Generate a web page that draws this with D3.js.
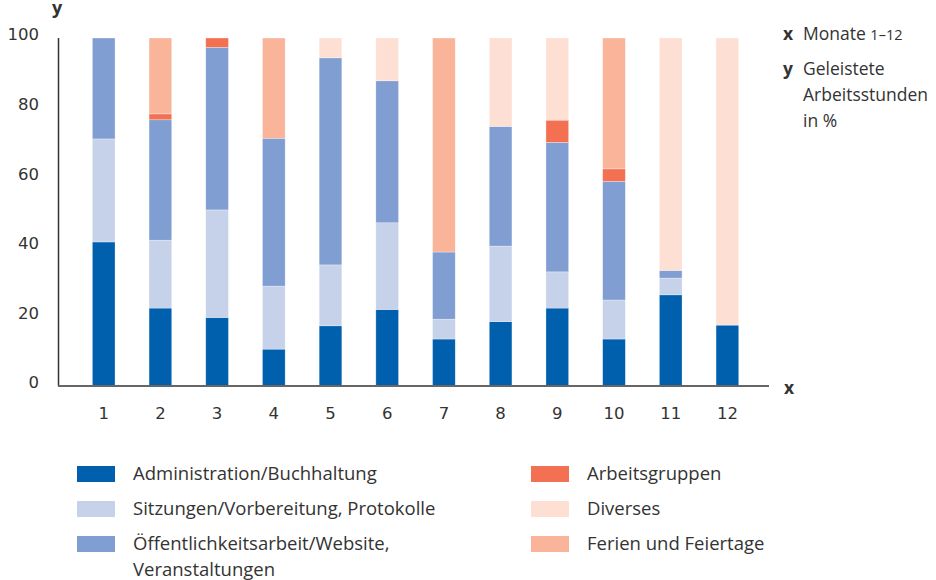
<!DOCTYPE html>
<html>
<head>
<meta charset="utf-8">
<script src="https://cdn.jsdelivr.net/npm/d3@7"></script>
<style>
  body { margin: 0; background: #fff; }
  svg text { font-family: "Open Sans", "Noto Sans", sans-serif; fill: #333; }
  svg .tick text { font-family: "DejaVu Sans", sans-serif; }
</style>
</head>
<body>
<svg id="chart" width="936" height="580"></svg>
<script>
const months = ['1', '2', '3', '4', '5', '6', '7', '8', '9', '10', '11', '12'];
const yTicks = [0, 20, 40, 60, 80, 100];

// share of working hours per month, in %
const admin      = [41.4, 22.4, 19.7, 10.6, 17.3, 22.0, 13.5, 18.5, 22.4, 13.5, 26.2, 17.5];
const sitzungen  = [29.6, 19.5, 30.9, 18.1, 17.5, 24.9,  5.7, 21.7, 10.4, 11.2,  4.8,  0];
const oeffentl   = [29.0, 34.6, 46.7, 42.5, 59.5, 40.8, 19.3, 34.4, 37.2, 34.1,  2.2,  0];
const arbeitsgr  = [0,     1.7,  2.7,  0,    0,    0,    0,    0,    6.4,  3.6,  0,    0];
const diverses   = [0,     0,    0,    0,    5.7, 12.3,  0,   25.4, 23.6,  0,   66.8, 82.5];
const ferien     = [0,    21.8,  0,   28.8,  0,    0,   61.5,  0,    0,   37.6,  0,    0];

const seriesNames = ['Administration/Buchhaltung', 'Sitzungen/Vorbereitung, Protokolle',
  'Öffentlichkeitsarbeit/Website, Veranstaltungen', 'Arbeitsgruppen', 'Diverses', 'Ferien und Feiertage'];
const seriesValues = [admin, sitzungen, oeffentl, arbeitsgr, diverses, ferien];
const colors = ['#0060ae', '#c6d1ea', '#819ed2', '#f37053', '#fddfd3', '#f9b49a'];

const keys = seriesNames.map((_, i) => 's' + i);
const table = months.map((m, j) => {
  const row = { month: m };
  keys.forEach((k, i) => row[k] = seriesValues[i][j]);
  return row;
});

const svg = d3.select('#chart');

const x = d3.scaleBand().domain(months).range([75.35, 755.75]).paddingInner(0.6).paddingOuter(0.3);
const y = d3.scaleLinear().domain([0, 100]).range([386, 38]);

const stack = d3.stack().keys(keys)(table);

svg.append('g').selectAll('g')
  .data(stack)
  .join('g')
  .attr('fill', (_, i) => colors[i])
  .selectAll('rect')
  .data(d => d.filter(p => p[1] - p[0] > 0))
  .join('rect')
  .attr('x', d => x(d.data.month))
  .attr('width', x.bandwidth())
  .attr('y', d => y(d[1]))
  .attr('height', d => y(d[0]) - y(d[1]))
  .attr('stroke', 'rgba(255,255,255,0.5)')
  .attr('stroke-width', 0.6);

// axes
svg.append('line')
  .attr('x1', 58.5).attr('x2', 58.5)
  .attr('y1', y(100)).attr('y2', y(0))
  .attr('stroke', '#333').attr('stroke-width', 1.5);
svg.append('line')
  .attr('x1', 58).attr('x2', 769)
  .attr('y1', y(0)).attr('y2', y(0))
  .attr('stroke', '#666').attr('stroke-width', 2);

const yAxis = svg.append('g')
  .attr('transform', 'translate(58,0)')
  .call(d3.axisLeft(y).tickValues(yTicks).tickSize(0).tickPadding(19));
yAxis.select('.domain').remove();
yAxis.selectAll('text')
  .attr('dy', '0.36em').attr('y', -4)
  .style('font-size', '16.5px');

const xAxis = svg.append('g')
  .attr('transform', `translate(0,${y(0)})`)
  .call(d3.axisBottom(x).tickSize(0).tickPadding(21));
xAxis.select('.domain').remove();
xAxis.selectAll('text').style('font-size', '16.5px');

// axis letters
svg.append('text').attr('x', 52).attr('y', 14).text('y')
  .style('font-size', '18px').style('font-weight', 'bold');
svg.append('text').attr('x', 784).attr('y', 394).text('x')
  .style('font-size', '17.5px').style('font-weight', 'bold');

// description on the right
const desc = svg.append('g').style('font-size', '17.5px');
desc.append('text').attr('x', 783).attr('y', 40).text('x').style('font-weight', 'bold');
const mt = desc.append('text').attr('x', 803).attr('y', 40);
mt.append('tspan').text('Monate ');
mt.append('tspan').text('1–12').style('font-size', '14.5px');
desc.append('text').attr('x', 783).attr('y', 75).text('y').style('font-weight', 'bold');
['Geleistete', 'Arbeitsstunden', 'in %'].forEach((t, i) => {
  desc.append('text').attr('x', 803).attr('y', 75 + i * 26).text(t);
});

// legend
const legendItems = [
  { col: 0, row: 0, lines: ['Administration/Buchhaltung'] },
  { col: 0, row: 1, lines: ['Sitzungen/Vorbereitung, Protokolle'] },
  { col: 0, row: 2, lines: ['Öffentlichkeitsarbeit/Website,', 'Veranstaltungen'] },
  { col: 1, row: 0, lines: ['Arbeitsgruppen'] },
  { col: 1, row: 1, lines: ['Diverses'] },
  { col: 1, row: 2, lines: ['Ferien und Feiertage'] }
];
const colX = [77, 531];
const legend = svg.append('g');
legendItems.forEach((it, i) => {
  const cy = 474 + it.row * 35;
  legend.append('rect')
    .attr('x', colX[it.col]).attr('y', cy - 8)
    .attr('width', 38).attr('height', 16)
    .attr('fill', colors[i]);
  it.lines.forEach((l, k) => {
    legend.append('text')
      .attr('x', colX[it.col] + 56).attr('y', cy + k * 26)
      .attr('dy', '0.35em')
      .style('font-size', '18.5px')
      .text(l);
  });
});
</script>
</body>
</html>
